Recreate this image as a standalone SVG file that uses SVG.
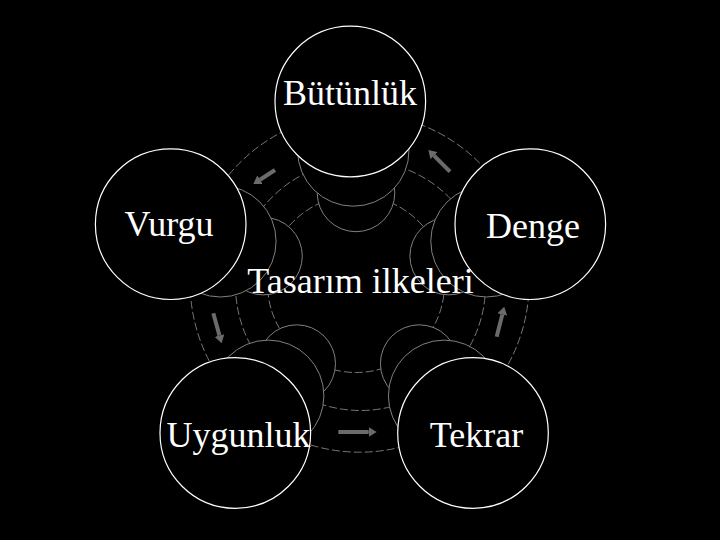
<svg xmlns="http://www.w3.org/2000/svg" width="720" height="540" viewBox="0 0 720 540">
<style>
.ring{fill:none;stroke:#777;stroke-width:1;stroke-dasharray:8 3}
.sh{fill:#000;stroke:#808080;stroke-width:1}
.main{fill:#000;stroke:#fff;stroke-width:1.2}
.lbl{font-family:"Liberation Serif","Times New Roman",serif;font-size:36px;fill:#fff;text-anchor:middle}
.arr{stroke:#6b6b6b;stroke-width:4;fill:none;marker-end:url(#ah)}
</style>
<defs>
<marker id="ah" markerUnits="userSpaceOnUse" markerWidth="8" markerHeight="10" refX="0" refY="5" orient="auto">
<path d="M0,0 L8,5 L0,10 z" fill="#6b6b6b"/>
</marker>
</defs>
<rect width="720" height="540" fill="#000"/>
<g id="rings">
<circle class="ring" cx="359.6" cy="282.7" r="169.5"/>
<circle class="ring" cx="360.5" cy="285.5" r="125"/>
<circle class="ring" cx="356" cy="284" r="88.5"/>
</g>
<g id="connectors">
<line class="arr" x1="275" y1="170" x2="260" y2="179.7"/>
<line class="arr" x1="450" y1="171.7" x2="434" y2="155.7"/>
<line class="arr" x1="213.3" y1="313.3" x2="219.5" y2="335.6"/>
<line class="arr" x1="496.7" y1="336.7" x2="502.3" y2="314.5"/>
<line class="arr" x1="338.3" y1="432" x2="368.7" y2="432"/>
</g>
<g id="node-butunluk">
<circle class="sh" cx="356" cy="192.9" r="38.8"/>
<circle class="sh" cx="353.3" cy="150.5" r="55.7"/>
<circle class="main" cx="350.3" cy="101.5" r="75.3"/>
<text class="lbl" x="350" y="105">Bütünlük</text>
</g>
<g id="node-vurgu">
<circle class="sh" cx="263.5" cy="256.1" r="38.8"/>
<circle class="sh" cx="220.4" cy="241.3" r="55.7"/>
<circle class="main" cx="170.7" cy="224.2" r="75.3"/>
<text class="lbl" x="169" y="236">Vurgu</text>
</g>
<g id="node-denge">
<circle class="sh" cx="448.7" cy="256.1" r="38.8"/>
<circle class="sh" cx="486.5" cy="241.3" r="55.7"/>
<circle class="main" cx="530.3" cy="224.2" r="75.3"/>
<text class="lbl" x="533" y="237.5">Denge</text>
</g>
<g id="node-uygunluk">
<circle class="sh" cx="296.7" cy="363.6" r="38.8"/>
<circle class="sh" cx="268.2" cy="395.8" r="55.7"/>
<circle class="main" cx="235.3" cy="433" r="75.3"/>
<text class="lbl" x="238.6" y="446.7">Uygunluk</text>
</g>
<g id="node-tekrar">
<circle class="sh" cx="419.2" cy="363.6" r="38.8"/>
<circle class="sh" cx="444.1" cy="395.8" r="55.7"/>
<circle class="main" cx="473" cy="433" r="75.3"/>
<text class="lbl" x="476.5" y="446.7">Tekrar</text>
</g>
<g id="center">
<text class="lbl" x="360.5" y="292.7">Tasarım ilkeleri</text>
</g>
</svg>
